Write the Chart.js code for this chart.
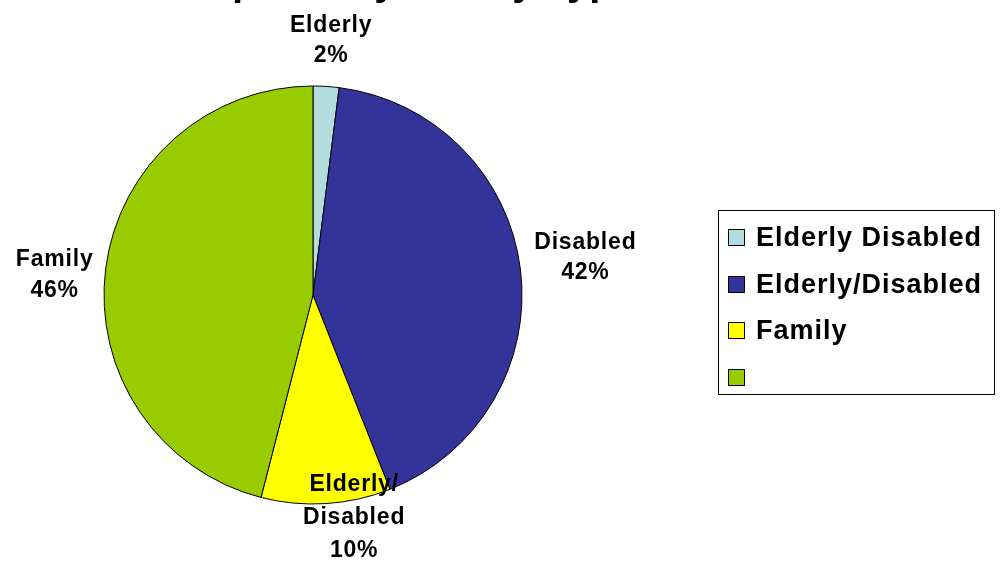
<!DOCTYPE html>
<html>
<head>
<meta charset="utf-8">
<title>Occupants by Family Type</title>
<script src="https://cdn.jsdelivr.net/npm/chart.js@4/dist/chart.umd.min.js"></script>
<style>
    html, body {
        margin: 0;
        padding: 0;
        background: #fff;
        overflow: hidden;
    }
    .wrap {
        position: relative;
        width: 1004px;
        height: 562px;
    }
    .legend-box {
        position: absolute;
        left: 718px;
        top: 210px;
        width: 277px;
        height: 185px;
        border: 1px solid #000;
        padding: 3px 0 0 9px;
        box-sizing: border-box;
        font-family: "Liberation Sans", Arial, sans-serif;
        font-weight: bold;
        font-size: 27px;
        letter-spacing: 1px;
    }
    .legend-item {
        display: flex;
        align-items: center;
        height: 46.7px;
    }
    .legend-swatch {
        width: 17px;
        height: 17px;
        border: 1px solid #000;
        box-sizing: border-box;
        margin-right: 11px;
        flex: none;
    }
</style>
</head>
<body>
<div class="wrap">
    <canvas id="pieChart" width="1004" height="562"></canvas>
    <div class="legend-box" id="legend"></div>
</div>
<script>
// Chart data
const titleText = 'Occupants by Family Type';
const legendLabels = ['Elderly Disabled', 'Elderly/Disabled', 'Family', ''];
const sliceLabels = [['Elderly'], ['Disabled'], ['Elderly/', 'Disabled'], ['Family']];
const shares = [2, 42, 10, 46];
const sliceColors = ['#B3DCDF', '#333399', '#FFFF00', '#99CC00'];

// label block offsets from the slice's outer edge (px) and line spacing
const labelShift = [[5, -47], [65, -13], [28, 12], [-51, 5]];
const labelLineH = [30, 30, 33, 31];

const FONT = '"Liberation Sans", Arial, sans-serif';

// Slice captions, drawn next to each arc
const sliceLabelPlugin = {
    id: 'sliceLabels',
    afterDatasetsDraw(chart) {
        const ctx = chart.ctx;
        const meta = chart.getDatasetMeta(0);
        ctx.save();
        ctx.font = 'bold 23px ' + FONT;
        ctx.letterSpacing = '0.8px';
        ctx.fillStyle = '#000';
        ctx.textAlign = 'center';
        ctx.textBaseline = 'alphabetic';
        meta.data.forEach((arc, i) => {
            const p = arc.getProps(['x', 'y', 'startAngle', 'endAngle', 'outerRadius'], true);
            const mid = (p.startAngle + p.endAngle) / 2;
            const cx = p.x + Math.cos(mid) * p.outerRadius + labelShift[i][0];
            const cy = p.y + Math.sin(mid) * p.outerRadius + labelShift[i][1];
            const lines = sliceLabels[i].concat([shares[i] + '%']);
            const lh = labelLineH[i];
            const top = cy - (lines.length - 1) * lh / 2 + 8;
            lines.forEach((t, k) => ctx.fillText(t, cx, top + k * lh));
        });
        ctx.restore();
    }
};

// Chart heading, sits above the canvas top so only its lower edge shows
const headingPlugin = {
    id: 'heading',
    afterDraw(chart) {
        const ctx = chart.ctx;
        ctx.save();
        ctx.font = 'bold 40px ' + FONT;
        ctx.fillStyle = '#000';
        ctx.textAlign = 'center';
        ctx.textBaseline = 'alphabetic';
        ctx.fillText(titleText, 384, -5);
        ctx.restore();
    }
};

const chart = new Chart(document.getElementById('pieChart'), {
    type: 'pie',
    data: {
        labels: legendLabels,
        datasets: [{
            data: shares,
            backgroundColor: sliceColors,
            borderColor: '#000',
            borderWidth: 1
        }]
    },
    options: {
        responsive: false,
        animation: false,
        radius: 209,
        layout: {
            padding: { left: 0, right: 378, top: 28, bottom: 0 }
        },
        plugins: {
            legend: { display: false },
            tooltip: { enabled: false }
        }
    },
    plugins: [sliceLabelPlugin, headingPlugin]
});

// Legend box built from the chart's own labels and colours
const legendEl = document.getElementById('legend');
chart.data.labels.forEach((label, i) => {
    const row = document.createElement('div');
    row.className = 'legend-item';
    row.innerHTML = `<span class="legend-swatch" style="background:${sliceColors[i]}"></span><span>${label}</span>`;
    legendEl.appendChild(row);
});
</script>
</body>
</html>
